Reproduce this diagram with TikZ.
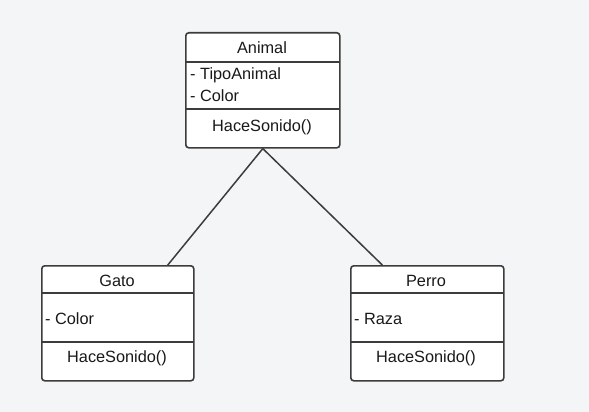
\documentclass[tikz,border=0pt]{standalone}
\usepackage{fontspec}
\setmainfont{Liberation Sans}
\definecolor{bgc}{HTML}{F4F5F7}
\definecolor{edge}{HTML}{3C3C3C}
\begin{document}
\begin{tikzpicture}[x=1pt,y=-1pt,
  umlbox/.style={draw=edge,fill=white,line width=1.6pt,rounded corners=3pt,inner sep=0pt,minimum width=#1},
  divider/.style={draw=edge,line width=1.4pt},
  lbl/.style={font=\fontsize{16.3}{19}\selectfont,text=black!90,inner sep=0pt},
  conn/.style={draw=edge,line width=1.5pt}]
\useasboundingbox[fill=bgc] (0,0) rectangle (589,412);
% Animal
\node[umlbox=154pt,minimum height=115pt,anchor=north west] (animal) at (185,32) {};
\draw[divider] (185,62) -- (339,62);
\draw[divider] (185,109) -- (339,109);
\node[lbl] (animalT) at (262,47.5) {Animal};
\node[lbl,anchor=west] (animalA1) at (190,75.5) {- TipoAnimal};
\node[lbl,anchor=west] (animalA2) at (190,95.5) {- Color};
\node[lbl] (animalM) at (262,127.5) {HaceSonido()};
% Gato
\node[umlbox=152pt,minimum height=115pt,anchor=north west] (gato) at (41,265) {};
\draw[divider] (41,293) -- (193,293);
\draw[divider] (41,342) -- (193,342);
\node[lbl] (gatoT) at (117,280.5) {Gato};
\node[lbl,anchor=west] (gatoA) at (45,318.5) {- Color};
\node[lbl] (gatoM) at (117,358.5) {HaceSonido()};
% Perro
\node[umlbox=153pt,minimum height=115pt,anchor=north west] (perro) at (350,265) {};
\draw[divider] (350,293) -- (503,293);
\draw[divider] (350,342) -- (503,342);
\node[lbl] (perroT) at (426,280.5) {Perro};
\node[lbl,anchor=west] (perroA) at (354,318.5) {- Raza};
\node[lbl] (perroM) at (426,358.5) {HaceSonido()};
% connectors
\draw[conn] (animal.south) -- ([xshift=50pt]gato.north);
\draw[conn] (animal.south) -- ([xshift=-45pt]perro.north);
\end{tikzpicture}
\end{document}
